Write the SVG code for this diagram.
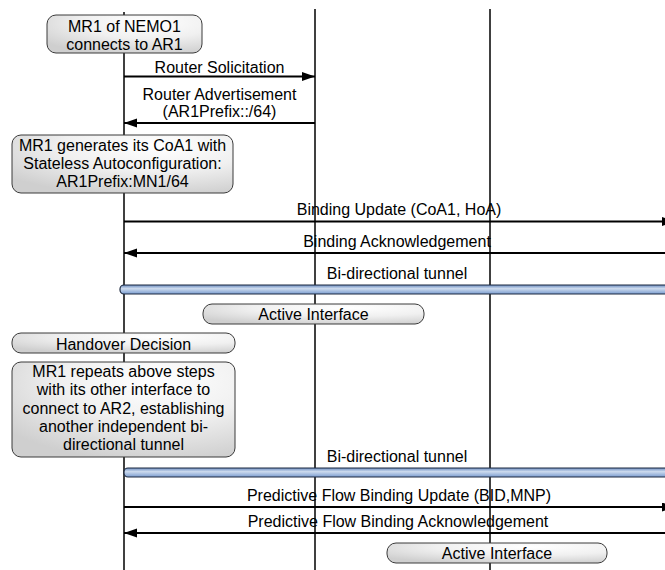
<svg xmlns="http://www.w3.org/2000/svg" width="665" height="570" viewBox="0 0 665 570">
<style>
  text { font-family: "Liberation Sans", Arial, sans-serif; font-size: 16px; fill: #000; text-anchor: middle; }
  .life { stroke: #000; stroke-width: 1.5; fill: none; }
  .msg { stroke: #000; stroke-width: 2.2; fill: none; }
  .box { fill: url(#boxGrad); stroke: #3a3a3a; stroke-width: 1; }
  .tunnel { fill: url(#tunGrad); stroke: #1e2a40; stroke-width: 1.2; }
</style>
<defs>
  <radialGradient id="boxGrad" cx="0.65" cy="0.2" r="0.85">
    <stop offset="0" stop-color="#ffffff"/>
    <stop offset="0.5" stop-color="#f0f0f0"/>
    <stop offset="1" stop-color="#cfcfcf"/>
  </radialGradient>
  <linearGradient id="tunGrad" x1="0" y1="0" x2="0" y2="1">
    <stop offset="0" stop-color="#6a8bbf"/>
    <stop offset="0.4" stop-color="#cddbee"/>
    <stop offset="1" stop-color="#7b9dd0"/>
  </linearGradient>
  <marker id="arrow" markerUnits="userSpaceOnUse" markerWidth="13" markerHeight="10" refX="13" refY="4.5" orient="auto">
    <path d="M0,0 L13,4.5 L0,9 z" fill="#000"/>
  </marker>
</defs>

<g id="lifelines">
  <line class="life" x1="124" y1="12" x2="124" y2="570"/>
  <line class="life" x1="315" y1="9" x2="315" y2="570"/>
  <line class="life" x1="490" y1="9" x2="490" y2="570"/>
</g>

<g id="connectors">
  <line class="msg" x1="124" y1="76.5" x2="315" y2="76.5" marker-end="url(#arrow)"/>
  <text x="219.5" y="73">Router Solicitation</text>
  <line class="msg" x1="315" y1="123" x2="124" y2="123" marker-end="url(#arrow)"/>
  <text x="219.5" y="100">Router Advertisement</text>
  <text x="219.5" y="117">(AR1Prefix::/64)</text>

  <line class="msg" x1="124" y1="221.5" x2="675" y2="221.5" marker-end="url(#arrow)"/>
  <text x="399" y="215">Binding Update (CoA1, HoA)</text>
  <line class="msg" x1="680" y1="253" x2="124" y2="253" marker-end="url(#arrow)"/>
  <text x="397" y="247">Binding Acknowledgement</text>

  <rect class="tunnel" x="120" y="285" width="570" height="9" rx="4"/>
  <text x="397" y="279">Bi-directional tunnel</text>

  <rect class="tunnel" x="124" y="468" width="570" height="9" rx="4"/>
  <text x="397" y="462">Bi-directional tunnel</text>

  <line class="msg" x1="124" y1="507" x2="675" y2="507" marker-end="url(#arrow)"/>
  <text x="399" y="500.5">Predictive Flow Binding Update (BID,MNP)</text>
  <line class="msg" x1="680" y1="533" x2="124" y2="533" marker-end="url(#arrow)"/>
  <text x="398" y="527">Predictive Flow Binding Acknowledgement</text>
</g>

<g id="box-connect">
  <rect class="box" x="47" y="15" width="155" height="38" rx="9"/>
  <text x="124.5" y="31.5">MR1 of NEMO1</text>
  <text x="124.5" y="50">connects to AR1</text>
</g>

<g id="box-coa">
  <rect class="box" x="12" y="135" width="221" height="58" rx="9"/>
  <text x="122.5" y="150.5">MR1 generates its CoA1 with</text>
  <text x="122.5" y="168.8">Stateless Autoconfiguration:</text>
  <text x="122.5" y="187">AR1Prefix:MN1/64</text>
</g>

<g id="box-active1">
  <rect class="box" x="203" y="304" width="221" height="20" rx="9"/>
  <text x="313.5" y="320">Active Interface</text>
</g>

<g id="box-handover">
  <rect class="box" x="12" y="333" width="223" height="20" rx="9"/>
  <text x="123.5" y="349.5">Handover Decision</text>
</g>

<g id="box-repeat">
  <rect class="box" x="12" y="362" width="223" height="95" rx="9"/>
  <text x="123.5" y="377">MR1 repeats above steps</text>
  <text x="123.5" y="395.3">with its other interface to</text>
  <text x="123.5" y="413.6">connect to AR2, establishing</text>
  <text x="123.5" y="431.9">another independent bi-</text>
  <text x="123.5" y="450.2">directional tunnel</text>
</g>

<g id="box-active2">
  <rect class="box" x="387" y="543" width="220" height="20" rx="9"/>
  <text x="497" y="559">Active Interface</text>
</g>
</svg>
